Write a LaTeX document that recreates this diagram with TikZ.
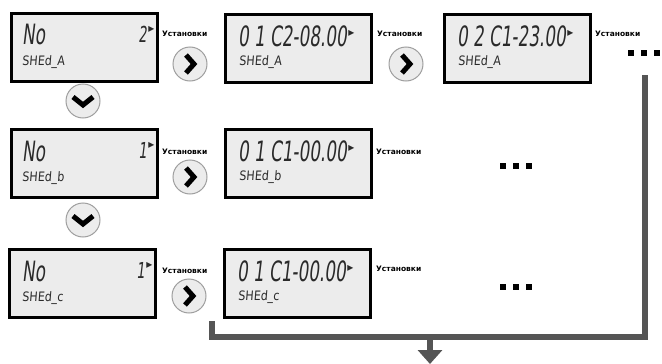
\documentclass[tikz,border=0pt]{standalone}
\usepackage{fontspec}
\setmainfont{DejaVu Sans}
\newfontfamily\lcdfont[FakeStretch=0.6,FakeSlant=0.12]{DejaVu Sans}
\newfontfamily\lcdsmall[FakeStretch=0.85,FakeSlant=0.08]{DejaVu Sans}
\usetikzlibrary{calc,arrows.meta}
\definecolor{lcdfill}{HTML}{ECECEC}
\definecolor{lcdink}{HTML}{2A2A2A}
\definecolor{flowgray}{HTML}{555555}
\newcommand{\segtri}{\hspace{1.5pt}{\normalfont\fontsize{12}{12}\selectfont\raisebox{10pt}{▸}}}

\begin{document}
\begin{tikzpicture}[x=1pt,y=-1pt,
  lcd/.style={draw=black, line width=2.5pt, fill=lcdfill, anchor=north west, minimum width=146pt, minimum height=68pt, inner sep=0pt},
  bigseg/.style={anchor=base west, inner sep=0pt, text=lcdink, font=\lcdfont\fontsize{28}{28}\selectfont},
  numseg/.style={anchor=base east, inner sep=0pt, text=lcdink, font=\lcdfont\fontsize{22}{22}\selectfont},
  nameseg/.style={anchor=base west, inner sep=0pt, text=lcdink, font=\lcdsmall\fontsize{13}{13}\selectfont},
  setlabel/.style={anchor=west, inner sep=0pt, font=\bfseries\fontsize{7.5}{8}\selectfont},
  btn/.style={circle, draw=gray!75, fill=gray!15, line width=1pt, minimum size=34pt, inner sep=0pt},
  nextbtn/.style={btn, path picture={\draw[black, line width=5pt, line join=miter] ($(path picture bounding box.center)+(-4,-9)$) -- ++(8,9) -- ++(-8,9);}},
  downbtn/.style={btn, path picture={\draw[black, line width=5pt, line join=miter] ($(path picture bounding box.center)+(-10,-4)$) -- ++(10,8) -- ++(10,-8);}},
  more/.style={inner sep=0pt},
  flow/.style={draw=flowgray, line width=6pt}
]
  \useasboundingbox (0,0) rectangle (662,364);

  % row A
  \node[lcd] (a1) at (10,12) {};
  \node[bigseg] (a1no) at ($(a1.north west)+(12,33)$) {No};
  \node[numseg] (a1num) at ($(a1.north east)+(-4,30)$) {2\segtri};
  \node[nameseg] (a1name) at ($(a1.north west)+(12,53)$) {SHEd\_A};
  \node[setlabel] (a1set) at (162,34) {Установки};
  \node[nextbtn] (a1go) at (190,64) {};

  \node[lcd] (a2) at (224,13) {};
  \node[bigseg] (a2time) at ($(a2.north west)+(14,33)$) {0 1 C2-08.00\segtri};
  \node[nameseg] (a2name) at ($(a2.north west)+(15,52)$) {SHEd\_A};
  \node[setlabel] (a2set) at (377,34) {Установки};
  \node[nextbtn] (a2go) at (406,64) {};

  \node[lcd] (a3) at (443,13) {};
  \node[bigseg] (a3time) at ($(a3.north west)+(14,33)$) {0 2 C1-23.00\segtri};
  \node[nameseg] (a3name) at ($(a3.north west)+(15,52)$) {SHEd\_A};
  \node[setlabel] (a3set) at (595,34) {Установки};
  \node[more] (a3more) at (644,53) {\rule{6pt}{6pt}\hspace{7pt}\rule{6pt}{6pt}\hspace{7pt}\rule{6pt}{6pt}};

  \node[downbtn] (a1down) at (83,101) {};

  % row B
  \node[lcd] (b1) at (10,128) {};
  \node[bigseg] (b1no) at ($(b1.north west)+(12,33)$) {No};
  \node[numseg] (b1num) at ($(b1.north east)+(-4,30)$) {1\segtri};
  \node[nameseg] (b1name) at ($(b1.north west)+(12,53)$) {SHEd\_b};
  \node[setlabel] (b1set) at (162,152) {Установки};
  \node[nextbtn] (b1go) at (190,177) {};

  \node[lcd] (b2) at (224,128) {};
  \node[bigseg] (b2time) at ($(b2.north west)+(14,33)$) {0 1 C1-00.00\segtri};
  \node[nameseg] (b2name) at ($(b2.north west)+(15,52)$) {SHEd\_b};
  \node[setlabel] (b2set) at (376,152) {Установки};
  \node[more] (b2more) at (516,166) {\rule{6pt}{6pt}\hspace{7pt}\rule{6pt}{6pt}\hspace{7pt}\rule{6pt}{6pt}};

  \node[downbtn] (b1down) at (83,220) {};

  % row C
  \node[lcd] (c1) at (8,248) {};
  \node[bigseg] (c1no) at ($(c1.north west)+(14,33)$) {No};
  \node[numseg] (c1num) at ($(c1.north east)+(-4,30)$) {1\segtri};
  \node[nameseg] (c1name) at ($(c1.north west)+(14,53)$) {SHEd\_c};
  \node[setlabel] (c1set) at (162,271) {Установки};
  \node[nextbtn] (c1go) at (189,296) {};

  \node[lcd] (c2) at (223,248) {};
  \node[bigseg] (c2time) at ($(c2.north west)+(14,33)$) {0 1 C1-00.00\segtri};
  \node[nameseg] (c2name) at ($(c2.north west)+(15,52)$) {SHEd\_c};
  \node[setlabel] (c2set) at (376,269) {Установки};
  \node[more] (c2more) at (516,287) {\rule{6pt}{6pt}\hspace{7pt}\rule{6pt}{6pt}\hspace{7pt}\rule{6pt}{6pt}};

  % exit line
  \coordinate (flowL) at (212,321);
  \coordinate (flowR) at (645,75);
  \coordinate (flowM) at (430,337);
  \coordinate (flowOut) at (430,364);
  \draw[flow, line join=miter] (flowL) -- ++(0,16) -| (flowR);
  \draw[flow, -{Triangle[width=24pt,length=14pt]}] (flowM) -- (flowOut);
\end{tikzpicture}
\end{document}
